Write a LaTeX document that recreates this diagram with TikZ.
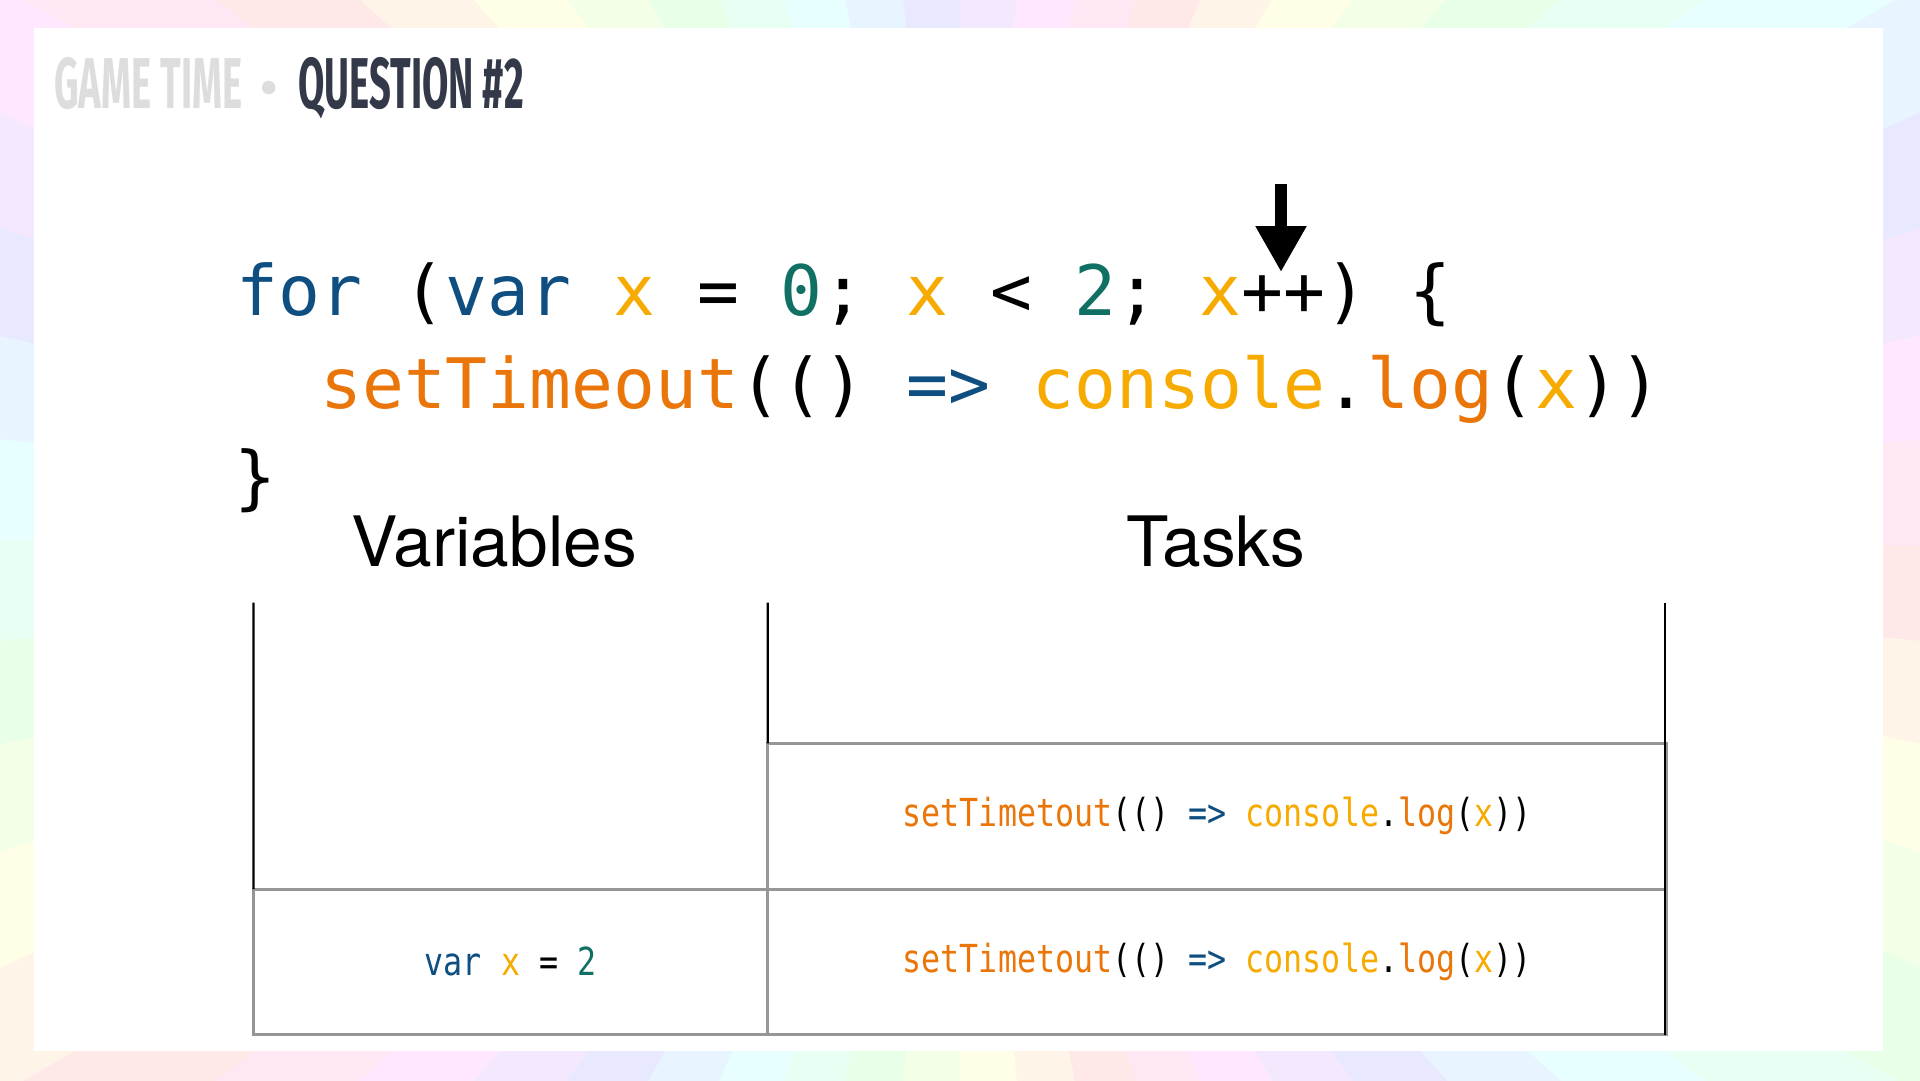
\documentclass[tikz,border=0pt]{standalone}
\usepackage{fontspec}
\setmainfont{TeX Gyre Heros}
\newfontfamily\codefont{DejaVu Sans Mono}
\newfontfamily\cellfont[FakeStretch=0.82]{DejaVu Sans Mono}
\newfontfamily\titlefont[FakeStretch=0.53]{Fira Sans}
\newfontfamily\sepfont{Fira Sans}
\usetikzlibrary{positioning,arrows.meta}
\frenchspacing
\definecolor{CodeBlue}{RGB}{14,78,128}
\definecolor{CodeGold}{RGB}{247,170,0}
\definecolor{CodeTeal}{RGB}{16,112,100}
\definecolor{CodeOrange}{RGB}{234,118,10}
\definecolor{TitleGrey}{RGB}{221,221,221}
\definecolor{TitleInk}{RGB}{52,57,74}
\definecolor{BoxGrey}{RGB}{150,150,150}
\newcommand\ckw[1]{\textcolor{CodeBlue}{#1}}
\newcommand\cvar[1]{\textcolor{CodeGold}{#1}}
\newcommand\cnum[1]{\textcolor{CodeTeal}{#1}}
\newcommand\cfun[1]{\textcolor{CodeOrange}{#1}}
\tikzset{
  title text/.style={font=\titlefont\bfseries\fontsize{72}{80}\selectfont, inner sep=0pt},
  title dot/.style={font=\sepfont\fontsize{60}{60}\selectfont, text=TitleGrey, inner sep=0pt},
  code line/.style={font=\codefont\fontsize{69.6}{84}\selectfont, anchor=base west, inner sep=0pt},
  col heading/.style={font=\fontsize{69.5}{80}\selectfont, anchor=base, inner sep=0pt},
  col wall/.style={line width=2.2pt, black},
  stack cell/.style={draw=BoxGrey, line width=3pt, fill=white, outer sep=0pt, inner sep=0pt,
    font=\cellfont\fontsize{38.6}{46}\selectfont},
  var cell/.style={stack cell, minimum width=514.3pt, minimum height=145.7pt},
  task cell/.style={stack cell, minimum width=898.8pt, minimum height=145.7pt},
  pointer/.style={-{Triangle[length=46pt,width=48pt]}, line width=12pt, black}
}
\begin{document}
\begin{tikzpicture}[x=1pt, y=-1pt]
\useasboundingbox (0,0) rectangle (1920,1080);
% pastel frame
\coordinate (centre) at (960,540);
\begin{scope}
\clip (0,0) rectangle (1920,1080);
\foreach \i in {0,...,59}{
  \pgfmathtruncatemacro\wedgehue{mod(\i*30,360)}
  \definecolor{wedge}{Hsb}{\wedgehue,0.09,1}
  \fill[wedge] (centre) -- +(\i*6:1400) -- +(\i*6+6.3:1400) -- cycle;
}
\end{scope}
\fill[white] (34,28) rectangle (1883,1051);
% title
\node[title text, text=TitleGrey, anchor=base west] (game) at (54,108) {GAME TIME};
\node[title dot, base right=17pt of game] (sep) {•};
\node[title text, text=TitleInk, base right=19pt of sep] (question) {QUESTION \#2};
% code
\node[code line] (for line) at (236,315)
  {\ckw{for} (\ckw{var} \cvar{x} = \cnum{0}; \cvar{x} < \cnum{2}; \cvar{x}++) \{};
\node[code line] (timeout line) at (320,408)
  {\cfun{setTimeout}(() \ckw{=>} \cvar{console}.\cfun{log}(\cvar{x}))};
\node[code line] (close brace) at (234,501) {\}};
\coordinate (ptr top) at (1281,184);
\coordinate (ptr tip) at (1281,272);
\draw[pointer] (ptr top) -- (ptr tip);
% columns
\node[col heading] (vars head) at (494,566) {Variables};
\node[col heading] (tasks head) at (1216,566) {Tasks};
\node[var cell] (var cell) at (510.6,961.9) {\ckw{var} \cvar{x} = \cnum{2}};
\node[task cell, right=0pt of var cell] (task two)
  {\cfun{setTimetout}(() \ckw{=>} \cvar{console}.\cfun{log}(\cvar{x}))};
\node[task cell, above=0pt of task two] (task one)
  {\cfun{setTimetout}(() \ckw{=>} \cvar{console}.\cfun{log}(\cvar{x}))};
\coordinate (var wall top) at (253.5,602.5);
\coordinate (mid wall top) at (767.8,602.5);
\coordinate (task wall top) at (1665,602.5);
\draw[col wall] (var wall top) -- (var cell.north west);
\draw[col wall] (mid wall top) -- (task one.north west);
\draw[col wall] (task wall top) -- (task two.south east -| task wall top);
\end{tikzpicture}
\end{document}
